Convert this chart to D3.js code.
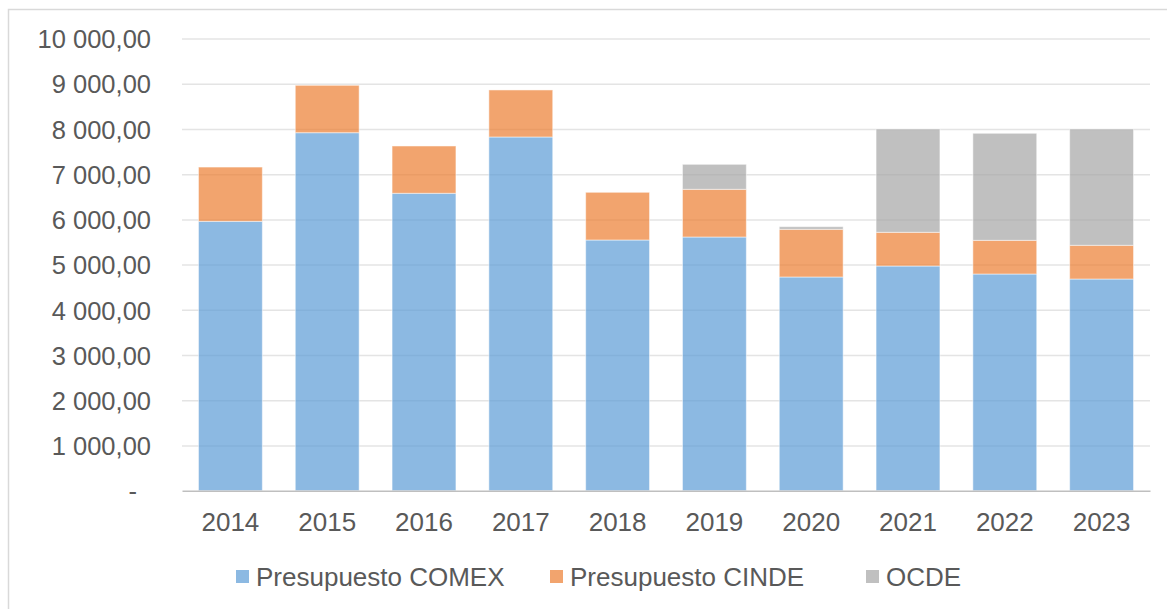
<!DOCTYPE html>
<html>
<head>
<meta charset="utf-8">
<script src="https://cdn.jsdelivr.net/npm/d3@7"></script>
<style>
  body { margin: 0; background: #fff; }
  text { font-family: "Liberation Sans", Arial, sans-serif; fill: #595959; }
</style>
</head>
<body>
<div id="chart"></div>
<script>
// ---------------------------------------------
// ---------        Data               ---------
// ---------------------------------------------
var years = ["2014", "2015", "2016", "2017", "2018", "2019", "2020", "2021", "2022", "2023"];
var comex = [5957, 7917, 6577, 7822, 5544, 5610, 4726, 4969, 4792, 4681];
var cinde = [1200, 1048, 1046, 1040, 1055, 1055, 1054, 745, 745, 746];
var ocde  = [0, 0, 0, 0, 0, 553, 58, 2285, 2367, 2572];
var seriesNames = ["Presupuesto COMEX", "Presupuesto CINDE", "OCDE"];
var seriesColors = ["#5B9BD5", "#ED7D31", "#A5A5A5"];
var yTicks = [0, 1000, 2000, 3000, 4000, 5000, 6000, 7000, 8000, 9000, 10000];

var width = 1167, height = 609;
var plot = { left: 182, right: 1150, top: 38.5, bottom: 490.7 };

var svg = d3.select("#chart")
  .append("svg")
    .attr("width", width)
    .attr("height", height);

// chart frame (only top and left visible in reference)
svg.append("rect")
  .attr("x", 8.5)
  .attr("y", 9.5)
  .attr("width", width + 20)
  .attr("height", height + 20)
  .attr("fill", "none")
  .attr("stroke", "#D9D9D9")
  .attr("stroke-width", 1.5);

// ---------------------------------------------
// ---------       Scales / axes        --------
// ---------------------------------------------
var x = d3.scaleBand()
  .domain(years)
  .range([plot.left, plot.right])
  .paddingInner(0.34)
  .paddingOuter(0.17);

var y = d3.scaleLinear()
  .domain([0, 10000])
  .range([plot.bottom, plot.top]);

var locale = d3.formatLocale({ decimal: ",", thousands: "\u00a0", grouping: [3] });
var fmt = locale.format(",.2f");

// gridlines
var grid = svg.append("g")
  .attr("transform", "translate(" + plot.left + ",0)")
  .call(d3.axisLeft(y).tickValues(yTicks.filter(function (d) { return d > 0; }))
    .tickSize(-(plot.right - plot.left)).tickFormat(""));
grid.select(".domain").remove();
grid.selectAll("line").attr("stroke", "#E4E4E4").attr("stroke-width", 1.5);

// y labels
var yAxis = svg.append("g")
  .attr("transform", "translate(151,0)")
  .call(d3.axisLeft(y).tickValues(yTicks).tickSize(0).tickPadding(0)
    .tickFormat(function (d) { return d === 0 ? "-" : fmt(d); }));
yAxis.select(".domain").remove();
yAxis.selectAll("text")
  .attr("font-size", 25.5)
  .attr("fill", "#595959")
  .attr("font-family", "Liberation Sans, Arial, sans-serif")
  .attr("dy", "0.36em")
  .attr("x", function (d) { return d === 0 ? -14 : 0; });

// ---------------------------------------------
// ---------       Bars                 --------
// ---------------------------------------------
var table = years.map(function (yr, i) {
  return { year: yr, comex: comex[i], cinde: cinde[i], ocde: ocde[i] };
});
var stack = d3.stack().keys(["comex", "cinde", "ocde"])(table);

svg.append("g")
  .selectAll("g")
  .data(stack)
  .join("g")
    .attr("fill", function (d, i) { return seriesColors[i]; })
    .attr("fill-opacity", 0.7)
  .selectAll("rect")
  .data(function (d) { return d.filter(function (p) { return p[1] - p[0] > 0; }); })
  .join("rect")
    .attr("x", function (d) { return x(d.data.year); })
    .attr("width", x.bandwidth())
    .attr("y", function (d) { return y(d[1]); })
    .attr("height", function (d) { return y(d[0]) - y(d[1]); })
    .attr("stroke", "#fff")
    .attr("stroke-opacity", 0.5)
    .attr("stroke-width", 1);

// x axis
var xAxis = svg.append("g")
  .attr("transform", "translate(0," + plot.bottom + ")")
  .call(d3.axisBottom(x).tickSize(0).tickPadding(0));
xAxis.select(".domain").attr("stroke", "#BFBFBF").attr("stroke-width", 1.5);
xAxis.selectAll("text")
  .attr("font-size", 26)
  .attr("fill", "#595959")
  .attr("font-family", "Liberation Sans, Arial, sans-serif")
  .attr("dy", 0)
  .attr("y", 40.5);

// ---------------------------------------------
// ---------       Legend               --------
// ---------------------------------------------
var legendX = [236, 550, 866];
var legend = svg.selectAll(".legend")
  .data(seriesNames)
  .enter()
  .append("g")
  .attr("class", "legend")
  .attr("transform", function (d, i) { return "translate(" + legendX[i] + ",570)"; });

legend.append("rect")
  .attr("width", 13)
  .attr("height", 13)
  .attr("fill", function (d, i) { return seriesColors[i]; })
  .attr("fill-opacity", 0.7);

legend.append("text")
  .attr("x", 20)
  .attr("y", 16)
  .attr("font-size", 26)
  .text(function (d) { return d; });
</script>
</body>
</html>
